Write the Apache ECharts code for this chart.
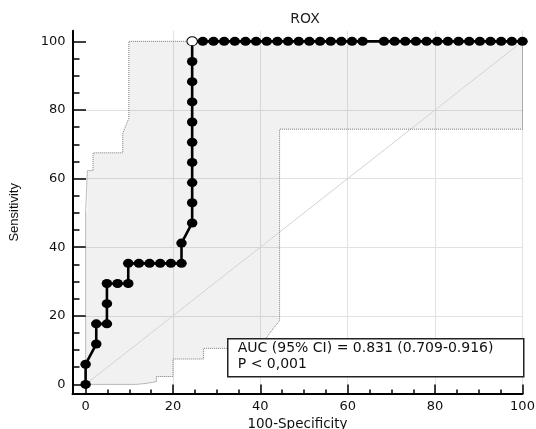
<!DOCTYPE html>
<html>
<head>
<meta charset="utf-8">
<script src="https://cdn.jsdelivr.net/npm/echarts@6.0.0/dist/echarts.min.js"></script>
<style>
html,body{margin:0;padding:0;background:#fff;}
#chart{width:536px;height:429px;}
</style>
</head>
<body>
<div id="chart"></div>
<script>
// ROC curve: 100-Specificity (x) and Sensitivity (y)
var rocX = [0, 0, 2.44, 2.44, 4.88, 4.88, 4.88, 7.32, 9.76, 9.76,
  12.2, 14.63, 17.07, 19.51, 21.95, 21.95,
  24.39, 24.39, 24.39, 24.39, 24.39, 24.39, 24.39, 24.39, 24.39, 24.39,
  26.83, 29.27, 31.71, 34.15, 36.59, 39.02, 41.46, 43.9, 46.34, 48.78,
  51.22, 53.66, 56.1, 58.54, 60.98, 63.41, 68.29, 70.73, 73.17, 75.61,
  78.05, 80.49, 82.93, 85.37, 87.8, 90.24, 92.68, 95.12, 97.56, 100];
var rocY = [0, 5.88, 11.76, 17.65, 17.65, 23.53, 29.41, 29.41, 29.41, 35.29,
  35.29, 35.29, 35.29, 35.29, 35.29, 41.18,
  47.06, 52.94, 58.82, 64.71, 70.59, 76.47, 82.35, 88.24, 94.12, 100,
  100, 100, 100, 100, 100, 100, 100, 100, 100, 100,
  100, 100, 100, 100, 100, 100, 100, 100, 100, 100,
  100, 100, 100, 100, 100, 100, 100, 100, 100, 100];
// Optimal cut-off point (open marker)
var cutoffX = 24.39, cutoffY = 100;

// 95% confidence bounds
var ciUpperX = [0, 0, 0.4, 0.4, 1.7, 1.7, 8.5, 8.5, 9.9, 9.9, 100];
var ciUpperY = [0, 50, 50, 62.3, 62.3, 67.5, 67.5, 73.2, 77.6, 100, 100];
var ciLowerX = [0, 11.6, 14, 16.2, 16.2, 20, 20, 27, 27, 40, 41.8, 44.4, 44.4, 100, 100];
var ciLowerY = [0, 0, 0.3, 0.8, 2.3, 2.3, 7.4, 7.4, 10.5, 10.5, 14.4, 18.6, 74.4, 74.4, 100];

// Reference diagonal
var diagX = [0, 100];
var diagY = [0, 100];

var xTicks = [0, 20, 40, 60, 80, 100];
var yTicks = [0, 20, 40, 60, 80, 100];

var titleText = 'ROX';
var xName = '100-Specificity';
var yName = 'Sensitivity';
var aucText = 'AUC (95% CI) = 0.831 (0.709-0.916)';
var pText = 'P < 0,001';

function zip(a, b) { return a.map(function (v, i) { return [v, b[i]]; }); }

var rocData = zip(rocX, rocY).map(function (p) {
  if (p[0] === cutoffX && p[1] === cutoffY) {
    return { value: p, itemStyle: { color: '#fff', borderColor: '#000', borderWidth: 1 } };
  }
  return p;
});

var chart = echarts.init(document.getElementById('chart'), null, { renderer: 'canvas' });
var labelFont = { fontFamily: 'DejaVu Sans', fontSize: 13, color: '#111' };

chart.setOption({
  animation: false,
  backgroundColor: '#fff',
  title: {
    text: titleText, left: 305, top: 12, padding: 0, textAlign: 'center',
    textStyle: { fontFamily: 'DejaVu Sans', fontSize: 14, fontWeight: 'normal', color: '#222' }
  },
  grid: { left: 72.5, right: 13.5, top: 30.7, bottom: 35, containLabel: false, outerBoundsMode: 'none' },
  xAxis: {
    type: 'value', min: -3, max: 100, minInterval: 20, maxInterval: 20,
    name: xName, nameLocation: 'middle', nameGap: 23,
    nameTextStyle: { fontFamily: 'DejaVu Sans', fontSize: 13.5, color: '#111' },
    axisLine: { show: true, onZero: false, lineStyle: { color: '#000', width: 2 } },
    axisTick: { show: true, inside: true, length: 9.5, customValues: xTicks, lineStyle: { color: '#000', width: 1.5 } },
    minorTick: { show: true, splitNumber: 4, length: 4.5, lineStyle: { color: '#000', width: 1.5 } },
    axisLabel: Object.assign({ margin: 6, customValues: xTicks, showMinLabel: true }, labelFont),
    splitLine: { show: true, showMinLine: false, lineStyle: { color: '#e2e2e2', width: 1 } }
  },
  yAxis: {
    type: 'value', min: -2.8, max: 103.1, minInterval: 20, maxInterval: 20,
    name: yName, nameLocation: 'middle', nameGap: 52, nameRotate: 90,
    nameTextStyle: { fontFamily: 'Liberation Sans', fontSize: 13, color: '#111' },
    axisLine: { show: true, onZero: false, lineStyle: { color: '#000', width: 2 } },
    axisTick: { show: true, inside: true, length: 13.5, customValues: yTicks, lineStyle: { color: '#000', width: 1.5 } },
    minorTick: { show: true, splitNumber: 4, length: 7, lineStyle: { color: '#000', width: 1.5 } },
    axisLabel: Object.assign({ margin: 7, customValues: yTicks }, labelFont),
    splitLine: { show: true, showMinLine: false, showMaxLine: false, lineStyle: { color: '#e2e2e2', width: 1 } }
  },
  series: [
    {
      type: 'custom', silent: true, z: 1, clip: false,
      data: [[0, 0]],
      renderItem: function (params, api) {
        var pts = [];
        for (var i = 0; i < ciUpperX.length; i++) pts.push(api.coord([ciUpperX[i], ciUpperY[i]]));
        for (var j = ciLowerX.length - 1; j >= 0; j--) pts.push(api.coord([ciLowerX[j], ciLowerY[j]]));
        return { type: 'polygon', shape: { points: pts }, style: { fill: 'rgba(0,0,0,0.055)' } };
      }
    },
    {
      type: 'line', silent: true, z: 2, symbol: 'none', data: zip(diagX, diagY),
      lineStyle: { color: '#d2d2d2', width: 1 }
    },
    {
      type: 'line', silent: true, z: 3, symbol: 'none', data: zip(ciUpperX, ciUpperY),
      lineStyle: { color: '#7a7a7a', width: 1, type: [1, 1] }
    },
    {
      type: 'line', silent: true, z: 3, symbol: 'none', data: zip(ciLowerX, ciLowerY),
      lineStyle: { color: '#7a7a7a', width: 1, type: [1, 1] }
    },
    {
      type: 'line', z: 5, clip: false, data: rocData,
      symbol: 'circle', symbolSize: [10.5, 9], showAllSymbol: true,
      lineStyle: { color: '#000', width: 2.6 },
      itemStyle: { color: '#000' }
    }
  ],
  graphic: [
    {
      type: 'group', left: 227, top: 338, z: 100,
      children: [
        { type: 'rect', z: 100, shape: { x: 0, y: 0, width: 296, height: 38 },
          style: { fill: '#fff', stroke: '#222', lineWidth: 1.5 } },
        { type: 'text', z: 101, x: 10, y: 2,
          style: { text: aucText + '\n' + pText, font: '14px "DejaVu Sans"', fill: '#111', lineHeight: 16 } }
      ]
    }
  ]
});
</script>
</body>
</html>
